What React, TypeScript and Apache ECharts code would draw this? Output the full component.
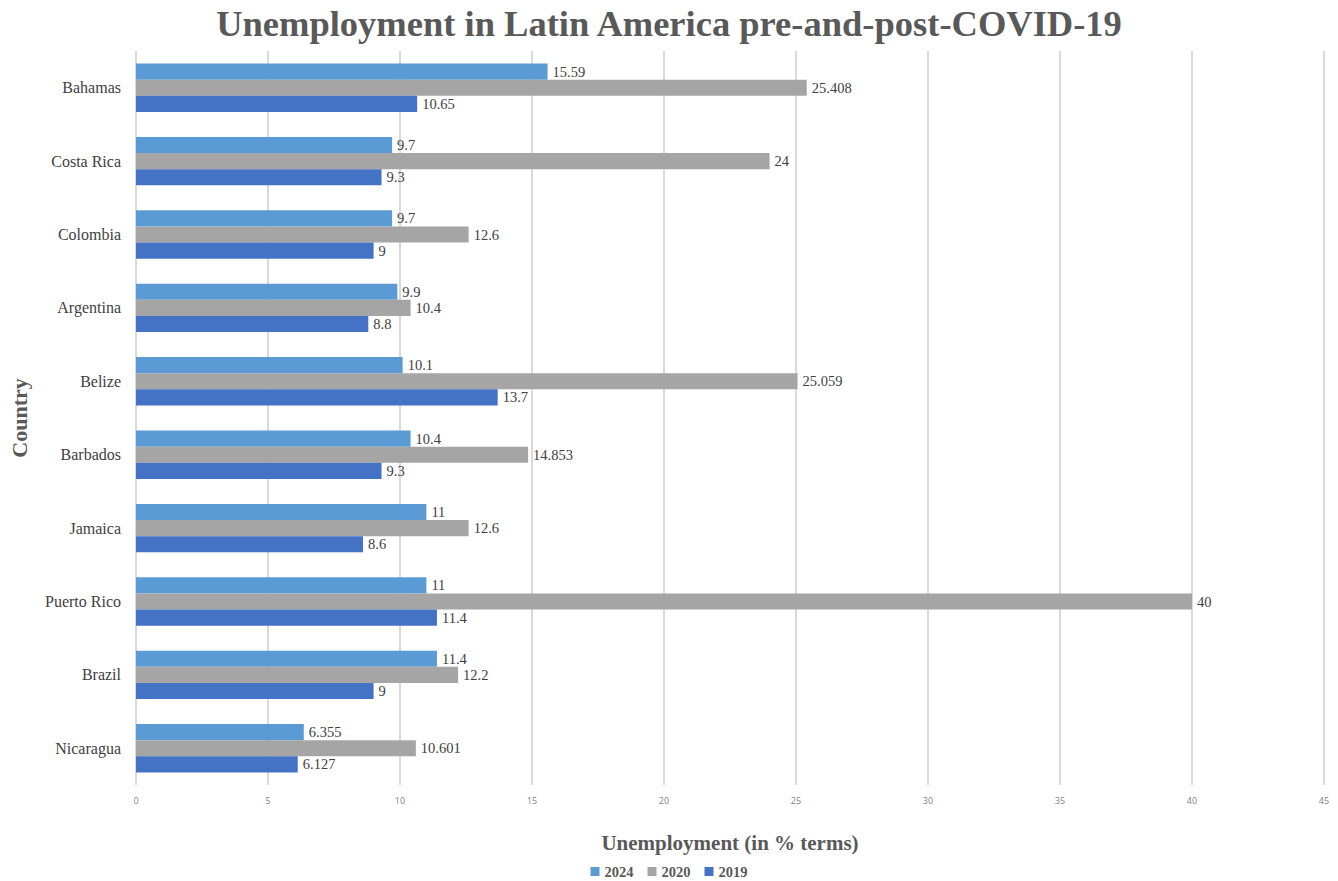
import React, { useEffect, useRef } from "react";
import * as echarts from "echarts";

const countries = ["Bahamas", "Costa Rica", "Colombia", "Argentina", "Belize", "Barbados", "Jamaica", "Puerto Rico", "Brazil", "Nicaragua"];
const values2024 = [15.59, 9.7, 9.7, 9.9, 10.1, 10.4, 11, 11, 11.4, 6.355];
const values2020 = [25.408, 24, 12.6, 10.4, 25.059, 14.853, 12.6, 40, 12.2, 10.601];
const values2019 = [10.65, 9.3, 9, 8.8, 13.7, 9.3, 8.6, 11.4, 9, 6.127];
const seriesNames = ["2024", "2020", "2019"];
const seriesColors = ["#5B9BD5", "#A5A5A5", "#4472C4"];

const serif = "'Liberation Serif', 'DejaVu Serif', serif";

export default function App() {
  const ref = useRef<HTMLDivElement>(null);
  useEffect(() => {
    if (!ref.current) return;
    const chart = echarts.init(ref.current, null, { renderer: "svg" });
    const data = [values2024, values2020, values2019];
    chart.setOption({
      animation: false,
      backgroundColor: "#ffffff",
      title: {
        text: "Unemployment in Latin America pre-and-post-COVID-19",
        left: "center",
        top: 0,
        textStyle: { fontFamily: serif, fontWeight: "bold", fontSize: 36.5, color: "#595959" },
      },
      legend: {
        data: seriesNames,
        top: 859,
        left: "center",
        padding: [5, 5, 0, 5],
        itemWidth: 9,
        itemHeight: 9,
        itemGap: 14,
        icon: "rect",
        textStyle: { fontFamily: serif, fontWeight: "bold", fontSize: 14.5, color: "#595959" },
      },
      grid: { left: 134, right: 14, top: 51, bottom: 96, containLabel: false },
      xAxis: {
        type: "value",
        min: 0,
        max: 45,
        interval: 5,
        name: "Unemployment (in % terms)",
        nameLocation: "middle",
        nameGap: 47,
        nameTextStyle: { fontFamily: serif, fontWeight: "bold", fontSize: 21, color: "#595959" },
        axisLine: { show: false },
        axisTick: { show: false },
        axisLabel: { fontFamily: "'Open Sans', sans-serif", fontSize: 9, color: "#7f7f7f", margin: 11 },
        splitLine: { show: true, lineStyle: { color: "#d9d9d9", width: 2 } },
      },
      yAxis: {
        type: "category",
        inverse: true,
        data: countries,
        name: "Country",
        nameLocation: "middle",
        nameGap: 106,
        nameRotate: 90,
        nameTextStyle: { fontFamily: serif, fontWeight: "bold", fontSize: 22, color: "#595959" },
        axisLine: { show: false },
        axisTick: { show: false },
        axisLabel: { fontFamily: serif, fontSize: 16, color: "#404040", margin: 15 },
        splitLine: { show: false },
      },
      series: seriesNames.map((name, i) => ({
        name,
        type: "bar",
        data: data[i],
        barGap: "0%",
        barCategoryGap: "34%",
        itemStyle: { color: seriesColors[i] },
        label: {
          show: true,
          position: "right",
          distance: 5,
          fontFamily: serif,
          fontSize: 14.5,
          color: "#404040",
        },
      })),
    });
    return () => chart.dispose();
  }, []);
  return <div ref={ref} style={{ position: "fixed", left: 0, top: 0, width: 1338, height: 881 }} />;
}
